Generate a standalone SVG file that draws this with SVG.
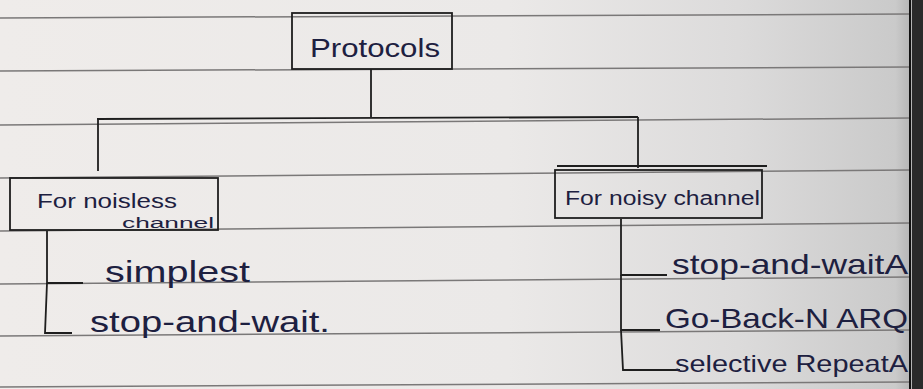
<svg xmlns="http://www.w3.org/2000/svg" width="923" height="389" viewBox="0 0 923 389">
  <defs>
    <linearGradient id="paper" x1="0" y1="0" x2="1" y2="0">
      <stop offset="0" stop-color="#efecea"/>
      <stop offset="0.55" stop-color="#ebe9e8"/>
      <stop offset="0.8" stop-color="#dcdbdb"/>
      <stop offset="0.97" stop-color="#cacaca"/>
      <stop offset="1" stop-color="#a5a5a5"/>
    </linearGradient>
    <style>
      .rule { stroke: #7a7878; stroke-width: 1.5; fill: none; }
      .box { fill: none; stroke: #1e1e1e; stroke-width: 1.8; }
      .conn { fill: none; stroke: #1e1e1e; stroke-width: 1.8; }
      .ink { fill: #1d2040; font-family: "Liberation Sans", "DejaVu Sans", sans-serif; }
    </style>
  </defs>
  <rect x="0" y="0" width="923" height="389" fill="url(#paper)"/>
  <rect x="912" y="0" width="11" height="389" fill="#2a2a2a"/>
  <g id="ruled-lines">
    <line class="rule" x1="0" y1="18" x2="910" y2="14"/>
    <line class="rule" x1="0" y1="71" x2="910" y2="67"/>
    <line class="rule" x1="0" y1="125" x2="910" y2="118"/>
    <line class="rule" x1="0" y1="178" x2="910" y2="170"/>
    <line class="rule" x1="0" y1="231" x2="910" y2="223"/>
    <line class="rule" x1="0" y1="284" x2="910" y2="277"/>
    <line class="rule" x1="0" y1="336" x2="910" y2="330"/>
    <line class="rule" x1="0" y1="387" x2="910" y2="382"/>
    <line x1="910" y1="0" x2="910" y2="389" stroke="#111" stroke-width="2"/>
  </g>
  <g id="connectors">
    <polyline class="conn" points="371,69 371,117"/>
    <polyline class="conn" points="97,119 638,117"/>
    <polyline class="conn" points="98,119 98,171"/>
    <polyline class="conn" points="638,117 638,168"/>
    <polyline class="conn" points="47,231 47,283 83,283"/>
    <polyline class="conn" points="47,283 45,333 72,333"/>
    <polyline class="conn" points="621,219 621,275 667,275"/>
    <polyline class="conn" points="621,275 621,330 660,330"/>
    <polyline class="conn" points="621,330 623,370 680,370"/>
  </g>
  <g id="node-protocols">
    <rect class="box" x="292" y="13" width="160" height="56"/>
    <text class="ink" x="310" y="57" font-size="26" textLength="130" lengthAdjust="spacingAndGlyphs">Protocols</text>
  </g>
  <g id="node-noiseless">
    <rect class="box" x="10" y="178" width="208" height="52"/>
    <text class="ink" x="37" y="208" font-size="21" textLength="140" lengthAdjust="spacingAndGlyphs">For noisless</text>
    <text class="ink" x="122" y="228" font-size="14" textLength="92" lengthAdjust="spacingAndGlyphs">channel</text>
  </g>
  <g id="node-noisy">
    <line class="conn" x1="557" y1="166" x2="767" y2="166"/>
    <rect class="box" x="555" y="170" width="207" height="48"/>
    <text class="ink" x="565" y="205" font-size="20" textLength="195" lengthAdjust="spacingAndGlyphs">For noisy channel</text>
  </g>
  <g id="node-simplest">
    <text class="ink" x="105" y="282" font-size="30" textLength="145" lengthAdjust="spacingAndGlyphs">simplest</text>
  </g>
  <g id="node-stop-and-wait">
    <text class="ink" x="90" y="332" font-size="30" textLength="240" lengthAdjust="spacingAndGlyphs">stop-and-wait.</text>
  </g>
  <g id="node-stop-and-wait-arq">
    <text class="ink" x="672" y="274" font-size="28" textLength="236" lengthAdjust="spacingAndGlyphs">stop-and-waitA</text>
  </g>
  <g id="node-go-back-n">
    <text class="ink" x="665" y="328" font-size="28" textLength="243" lengthAdjust="spacingAndGlyphs">Go-Back-N ARQ</text>
  </g>
  <g id="node-selective-repeat">
    <text class="ink" x="675" y="372" font-size="24" textLength="233" lengthAdjust="spacingAndGlyphs">selective RepeatA</text>
  </g>
</svg>
